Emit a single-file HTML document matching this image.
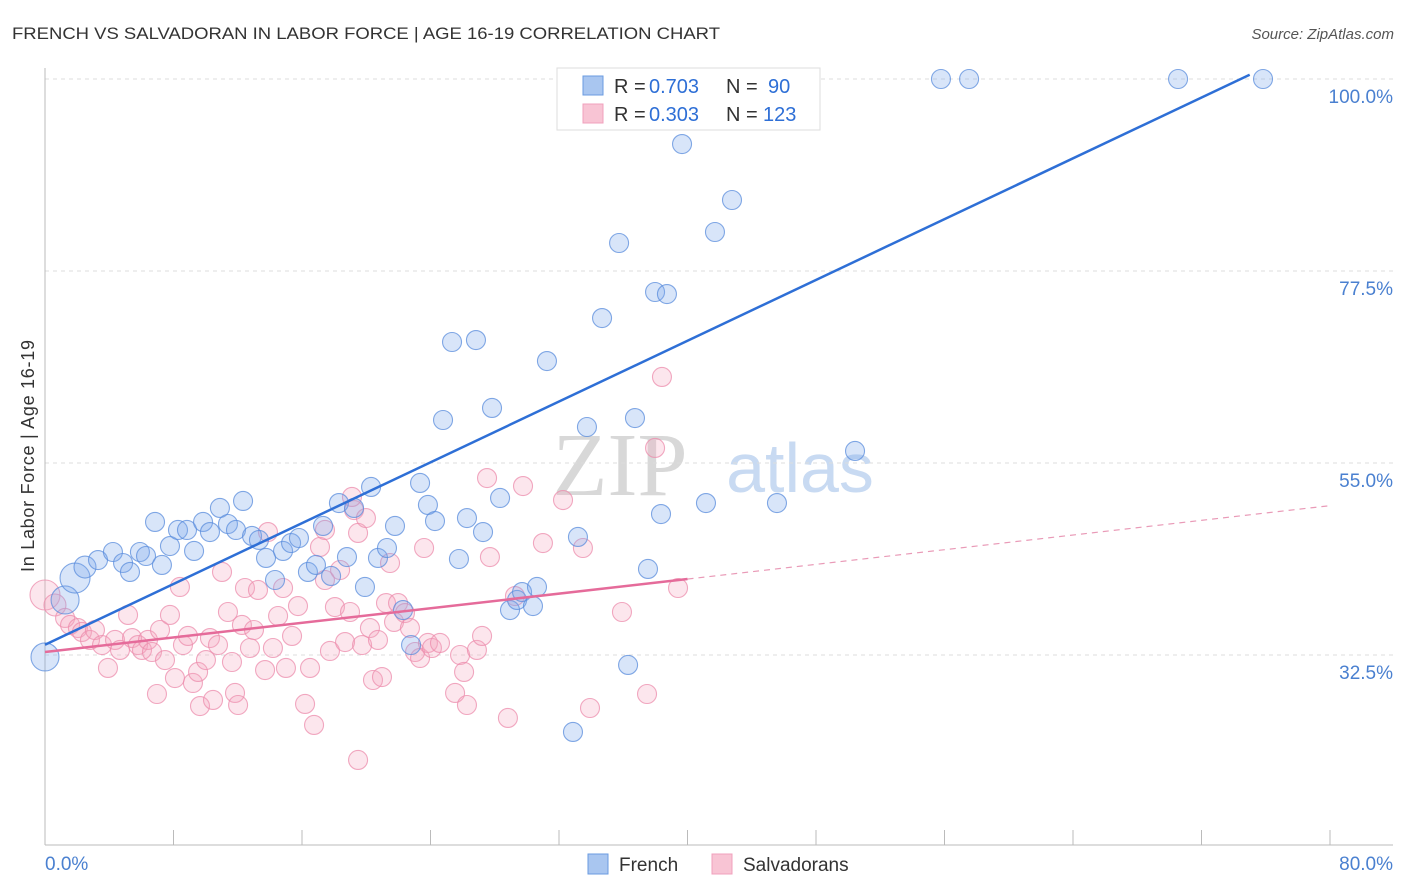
<!DOCTYPE html>
<html><head><meta charset="utf-8"><style>
body{margin:0;background:#fff;width:1406px;height:892px;overflow:hidden;font-family:"Liberation Sans",sans-serif}
svg{position:absolute;left:0;top:0}
</style></head><body>
<svg id="chart" width="1406" height="892">
<text x="12" y="39" font-size="17" fill="#333" textLength="708" lengthAdjust="spacingAndGlyphs">FRENCH VS SALVADORAN IN LABOR FORCE | AGE 16-19 CORRELATION CHART</text>
<text x="1394" y="39" font-size="15" fill="#555" font-style="italic" text-anchor="end">Source: ZipAtlas.com</text>
<text x="34" y="456" font-size="18" fill="#333" transform="rotate(-90 34 456)" text-anchor="middle" textLength="232">In Labor Force | Age 16-19</text>
<text x="620" y="495" font-size="90" fill="#d8d8d8" font-family="Liberation Serif,serif" text-anchor="middle">ZIP</text>
<text x="800" y="492" font-size="70" fill="#c8daf2" text-anchor="middle">atlas</text>
<g id="grid"></g><g id="pink"></g><g id="blue"></g><g id="lines"></g>
<g>
<rect x="557" y="68" width="263" height="62" fill="#fff" stroke="#ddd"/>
<rect x="583" y="76" width="20" height="19" fill="#a9c6f0" stroke="#6a9be0"/>
<rect x="583" y="104" width="20" height="19" fill="#f8c4d4" stroke="#f0a0bc"/>
<g font-size="20" fill="#333">
<text x="614" y="93">R =</text>
<text x="649" y="93" fill="#2e6fd6">0.703</text>
<text x="726" y="93">N =</text>
<text x="768" y="93" fill="#2e6fd6">90</text>
<text x="614" y="121">R =</text>
<text x="649" y="121" fill="#2e6fd6">0.303</text>
<text x="726" y="121">N =</text>
<text x="763" y="121" fill="#2e6fd6">123</text>
</g>
</g>
<g>
<rect x="588" y="854" width="20" height="20" fill="#a9c6f0" stroke="#6a9be0"/>
<text x="619" y="871" font-size="19" fill="#333">French</text>
<rect x="712" y="854" width="20" height="20" fill="#f8c4d4" stroke="#f0a0bc"/>
<text x="743" y="871" font-size="19" fill="#333">Salvadorans</text>
</g>
<text x="45" y="870" font-size="19" fill="#4a80d0">0.0%</text>
<text x="1393" y="870" font-size="19" fill="#4a80d0" text-anchor="end">80.0%</text>
</svg>
<script>
const yTicks=[100,77.5,55,32.5];
const yTickLabels=["100.0%","77.5%","55.0%","32.5%"];
const xTicks=[0,8,16,24,32,40,48,56,64,72,80];
const bluePx=[[45,657],[65,600],[75,578],[85,567],[98,560],[113,552],[123,563],[130,572],[140,552],[146,556],[155,522],[162,565],[170,546],[178,530],[187,530],[194,551],[203,522],[210,532],[220,508],[228,524],[236,530],[243,501],[252,536],[259,540],[266,558],[275,580],[283,551],[291,543],[299,538],[308,572],[316,565],[323,526],[331,576],[339,503],[347,557],[354,508],[365,587],[371,487],[378,558],[387,548],[395,526],[403,610],[411,645],[420,483],[428,505],[435,521],[443,420],[452,342],[459,559],[467,518],[476,340],[483,532],[492,408],[500,498],[510,610],[517,600],[522,592],[533,606],[537,587],[547,361],[573,732],[578,537],[587,427],[602,318],[619,243],[628,665],[635,418],[648,569],[655,292],[661,514],[667,294],[682,144],[706,503],[715,232],[732,200],[777,503],[855,451],[941,79],[969,79],[1178,79],[1263,79],[591,80],[775,80],[797,80]];
const pinkPx=[[45,595],[55,605],[65,618],[70,625],[78,628],[82,632],[90,640],[95,630],[102,645],[108,668],[115,640],[120,650],[128,615],[132,638],[138,645],[142,650],[148,640],[152,652],[157,694],[160,630],[165,660],[170,615],[175,678],[180,587],[183,645],[188,636],[193,683],[198,672],[200,706],[206,660],[210,638],[213,700],[218,645],[222,572],[228,612],[232,662],[235,693],[238,705],[242,625],[245,588],[250,648],[254,630],[258,590],[265,670],[268,532],[273,648],[278,616],[283,588],[286,668],[292,636],[298,606],[305,704],[310,668],[314,725],[320,547],[325,580],[330,651],[335,607],[340,570],[345,642],[350,612],[354,510],[358,533],[362,645],[366,518],[370,628],[373,680],[378,640],[382,677],[386,603],[390,563],[394,622],[398,603],[405,613],[410,628],[415,652],[420,658],[424,548],[428,643],[432,648],[440,643],[455,693],[460,655],[464,672],[467,705],[477,650],[482,636],[487,478],[490,557],[508,718],[515,596],[523,486],[543,543],[563,500],[583,548],[590,708],[622,612],[647,694],[655,448],[662,377],[678,588],[358,760],[352,497],[325,530]];
const frenchX=bluePx.map(p=>+((p[0]-45)/16.0625).toFixed(2));
const frenchY=bluePx.map(p=>+(100-(p[1]-79)/8.5333).toFixed(2));
const salvX=pinkPx.map(p=>+((p[0]-45)/16.0625).toFixed(2));
const salvY=pinkPx.map(p=>+(100-(p[1]-79)/8.5333).toFixed(2));
const frenchWeight={0:14,1:14,2:15,3:11};
const salvWeight={0:15,1:11};
const frenchTrend=[[0,33.7],[75,100.5]];
const salvTrend=[[0,32.85],[40,41.4],[80,50.0]];
const X=v=>45+v*16.0625, Y=v=>79+(100-v)*8.5333;
const NS="http://www.w3.org/2000/svg";
function mk(t,a,parent){const e=document.createElementNS(NS,t);for(const k in a)e.setAttribute(k,a[k]);document.getElementById(parent).appendChild(e);return e;}
yTicks.forEach((t,i)=>{
 const l=mk('line',{x1:45,x2:1393,y1:Y(t),y2:Y(t),stroke:'#ddd','stroke-dasharray':'4,4'},'grid');
 
 
 const tx=mk('text',{x:1393,y:Y(t)+24,'font-size':19,fill:'#4a80d0','text-anchor':'end'},'grid');
 tx.textContent=yTickLabels[i];
 
 
});
const ax=mk('line',{x1:45,x2:45,y1:68,y2:845,stroke:'#bbb'},'grid');


const bx=mk('line',{x1:45,x2:1393,y1:845,y2:845,stroke:'#bbb'},'grid');


xTicks.forEach(t=>{
 const l=mk('line',{x1:X(t),x2:X(t),y1:830,y2:845,stroke:'#bbb'},'grid');
 
 
});
salvX.forEach((x,i)=>{
 const c=mk('circle',{cx:X(x),cy:Y(salvY[i]),r:salvWeight[i]||9.5,fill:'rgba(244,165,192,0.28)',stroke:'rgba(236,140,172,0.75)','stroke-width':1.1},'pink');
 
 
});
frenchX.forEach((x,i)=>{
 const c=mk('circle',{cx:X(x),cy:Y(frenchY[i]),r:frenchWeight[i]||9.5,fill:'rgba(125,170,235,0.3)',stroke:'rgba(90,140,220,0.75)','stroke-width':1.1},'blue');
 
 
});
const bl=mk('line',{x1:X(frenchTrend[0][0]),y1:Y(frenchTrend[0][1]),x2:X(frenchTrend[1][0]),y2:Y(frenchTrend[1][1]),stroke:'#2e6fd6','stroke-width':2.5},'lines');


const pl=mk('line',{x1:X(salvTrend[0][0]),y1:Y(salvTrend[0][1]),x2:X(salvTrend[1][0]),y2:Y(salvTrend[1][1]),stroke:'#e56b9a','stroke-width':2.5},'lines');


const pd=mk('line',{x1:X(salvTrend[1][0]),y1:Y(salvTrend[1][1]),x2:X(salvTrend[2][0]),y2:Y(salvTrend[2][1]),stroke:'#e99ab7','stroke-width':1.2,'stroke-dasharray':'6,5'},'lines');


</script>
</body></html>
